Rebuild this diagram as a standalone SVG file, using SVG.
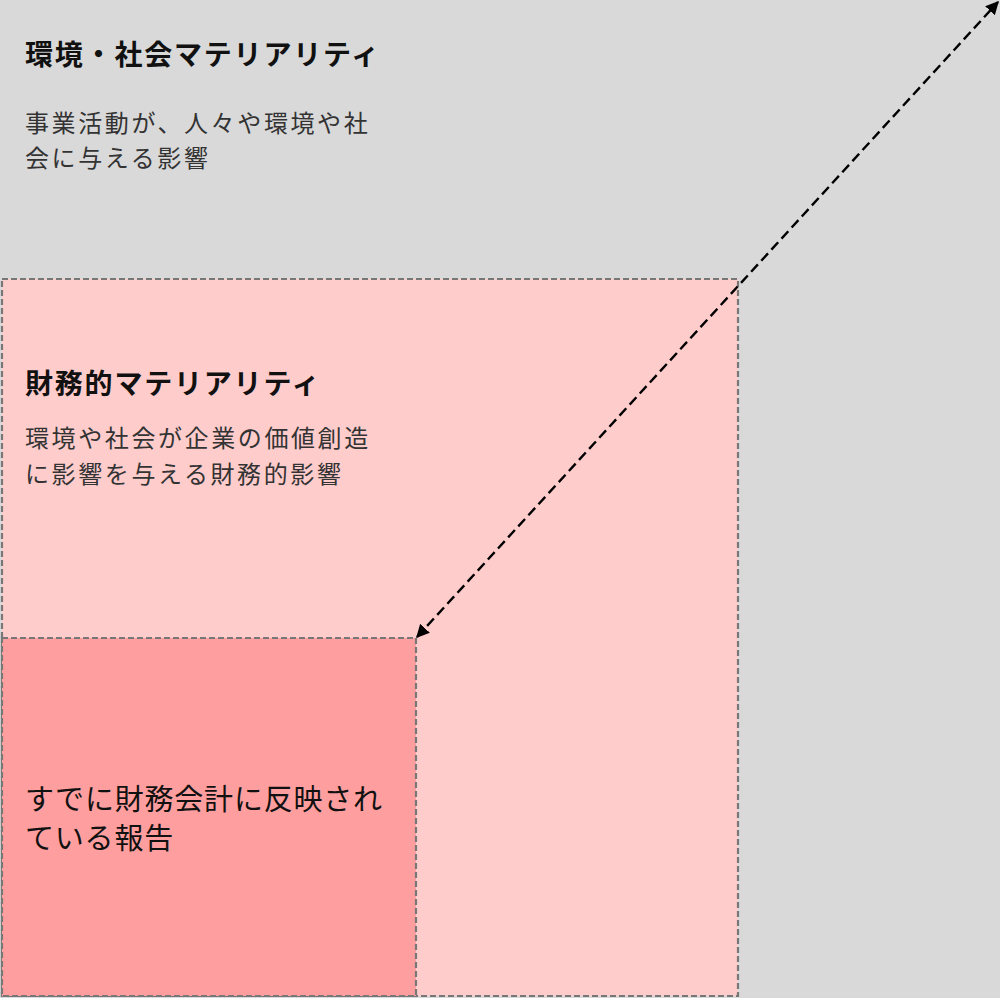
<svg xmlns="http://www.w3.org/2000/svg" width="1000" height="998" viewBox="0 0 1000 998">
<style>
.t{font-family:"Noto Sans CJK JP","Noto Sans CJK SC",sans-serif;}
.h{font-size:28px;font-weight:bold;fill:#111;letter-spacing:1.8px;}
.b{font-size:24px;fill:#333;letter-spacing:2.6px;}
.c{font-size:29px;fill:#111;letter-spacing:0.8px;}
.box{stroke:#777;stroke-width:2.2;stroke-dasharray:6 3;}
.conn{stroke:#000;stroke-width:2.4;stroke-dasharray:10 5;fill:none;}
</style>
<defs>
<marker id="ah" viewBox="0 0 10 10" refX="9" refY="5" markerWidth="5.5" markerHeight="5.5" orient="auto-start-reverse" markerUnits="strokeWidth">
<path d="M0,0 L10,5 L0,10 z" fill="#000"/>
</marker>
</defs>
<g id="env-social">
<rect x="0" y="0" width="1000" height="998" fill="#d9d9d9"/>
<text class="t h" x="25" y="65">環境・社会マテリアリティ</text>
<text class="t b" x="25" y="132">事業活動が、人々や環境や社</text>
<text class="t b" x="25" y="167">会に与える影響</text>
</g>
<g id="financial">
<rect class="box" x="2" y="279" width="736" height="717" fill="#ffcccc"/>
<text class="t h" x="25" y="394">財務的マテリアリティ</text>
<text class="t b" x="25" y="447">環境や社会が企業の価値創造</text>
<text class="t b" x="25" y="483">に影響を与える財務的影響</text>
</g>
<g id="reported">
<rect class="box" x="2" y="638" width="414" height="358" fill="#ff9e9e"/>
<text class="t c" x="25" y="810">すでに財務会計に反映され</text>
<text class="t c" x="25" y="849">ている報告</text>
</g>
<g id="connectors">
<line class="conn" x1="417" y1="637" x2="998" y2="2" marker-start="url(#ah)" marker-end="url(#ah)"/>
</g>
</svg>
